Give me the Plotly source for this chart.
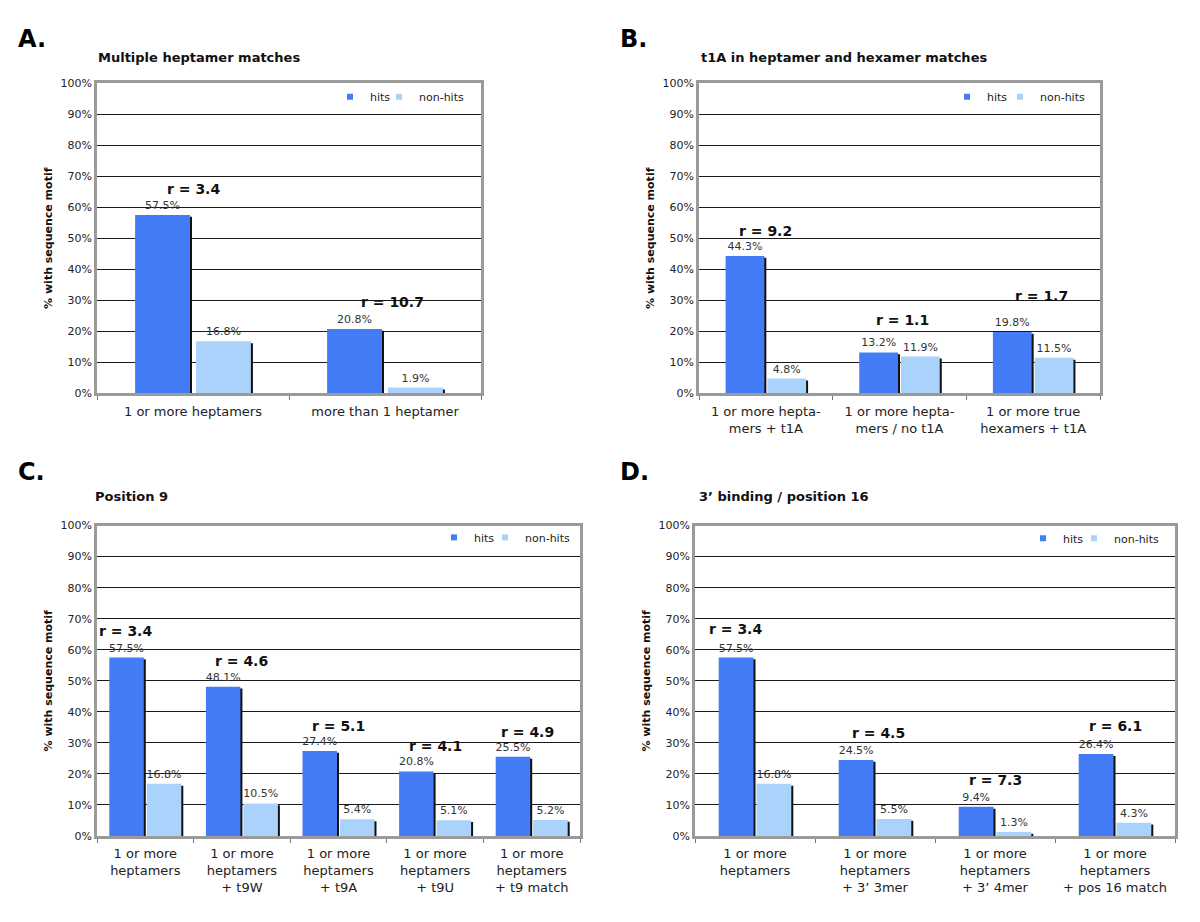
import plotly.graph_objects as go

# ---------------- data ----------------
series_names = ["hits", "non-hits"]

titles = ["Multiple heptamer matches",
          "t1A in heptamer and hexamer matches",
          "Position 9",
          "3\u2019 binding / position 16"]
letters = ["A.", "B.", "C.", "D."]

cat_A = ["1 or more heptamers", "more than 1 heptamer"]
hits_A = [57.5, 20.8]
non_A = [16.8, 1.9]
r_A = [3.4, 10.7]

cat_B = ["1 or more hepta-<br>mers + t1A", "1 or more hepta-<br>mers / no t1A",
         "1 or more true<br>hexamers + t1A"]
hits_B = [44.3, 13.2, 19.8]
non_B = [4.8, 11.9, 11.5]
r_B = [9.2, 1.1, 1.7]

cat_C = ["1 or more<br>heptamers", "1 or more<br>heptamers<br>+ t9W",
         "1 or more<br>heptamers<br>+ t9A", "1 or more<br>heptamers<br>+ t9U",
         "1 or more<br>heptamers<br>+ t9 match"]
hits_C = [57.5, 48.1, 27.4, 20.8, 25.5]
non_C = [16.8, 10.5, 5.4, 5.1, 5.2]
r_C = [3.4, 4.6, 5.1, 4.1, 4.9]

cat_D = ["1 or more<br>heptamers", "1 or more<br>heptamers<br>+ 3\u2019 3mer",
         "1 or more<br>heptamers<br>+ 3\u2019 4mer",
         "1 or more<br>heptamers<br>+ pos 16 match"]
hits_D = [57.5, 24.5, 9.4, 26.4]
non_D = [16.8, 5.5, 1.3, 4.3]
r_D = [3.4, 4.5, 7.3, 6.1]

y_ticks = list(range(0, 101, 10))
y_tick_text = [f"{v}%" for v in y_ticks]

# ---------------- style / layout ----------------
PAGE_MARGIN = 8           # browser body margin
W, H = 1200 - 2 * PAGE_MARGIN, 922 - 2 * PAGE_MARGIN
FONT = "DejaVu Sans"
C_HITS = "#437cf6"
C_NON = "#a9d3fb"
C_SHADOW = "#111111"
SERIES_COLORS = [C_HITS, C_NON]


def px_x(x):
    return (x - PAGE_MARGIN) / W


def px_y(y):
    return 1 - (y - PAGE_MARGIN) / H


panels = [
    dict(cats=cat_A, hits=hits_A, non=non_A, r=r_A, box=(97, 78, 481, 393), frac=0.286, gap=6,
         r_dx=[0, 7], r_dy=[26, 27],
         legend_sq=[(358, 94), (407, 94)], title_xy=(96, 57), letter_xy=(16, 38)),
    dict(cats=cat_B, hits=hits_B, non=non_B, r=r_B, box=(699, 78, 1100, 393), frac=0.29, gap=3,
         r_dx=[0, 3, 8], r_dy=[25, 32, 36],
         legend_sq=[(975, 94), (1028, 94)], title_xy=(699, 57), letter_xy=(618, 38)),
    dict(cats=cat_C, hits=hits_C, non=non_C, r=r_C, box=(97, 527, 580, 842), frac=0.357, gap=3,
         r_dx=[-20, 0, 0, 0, -4], r_dy=[27, 26, 25, 25, 25],
         legend_sq=[(462, 541), (513, 541)], title_xy=(93, 503), letter_xy=(16, 478)),
    dict(cats=cat_D, hits=hits_D, non=non_D, r=r_D, box=(695, 527, 1175, 842), frac=0.29, gap=3,
         r_dx=[-20, 3, 0, 0], r_dy=[29, 27, 27, 28],
         legend_sq=[(1051, 542), (1102, 542)], title_xy=(697, 503), letter_xy=(618, 478)),
]

fig = go.Figure()
annotations = []
layout = {}

for i, p in enumerate(panels):
    k = "" if i == 0 else str(i + 1)
    xa, ya = "x" + k, "y" + k
    x0, y0, x1, y1 = p["box"]
    n = len(p["cats"])
    px_per_unit = (x1 - x0) / n
    w = p["frac"]
    g = p["gap"] / px_per_unit
    sh = 2.0 / px_per_unit
    xs = list(range(n))
    off_h = -(w + g / 2)
    off_n = g / 2
    # shadows on the right edge of each bar
    for vals, off in ((p["hits"], off_h), (p["non"], off_n)):
        fig.add_trace(go.Bar(
            x=xs, y=[v - 0.6 for v in vals], width=[w] * n, offset=off + sh,
            marker=dict(color=C_SHADOW, line=dict(width=0)),
            xaxis=xa, yaxis=ya, showlegend=False, hoverinfo="skip"))
    for vals, off, col, name in ((p["hits"], off_h, C_HITS, series_names[0]),
                                 (p["non"], off_n, C_NON, series_names[1])):
        fig.add_trace(go.Bar(
            x=xs, y=vals, width=[w] * n, offset=off, name=name,
            marker=dict(color=col, line=dict(width=0)),
            text=[f"{v:.1f}%" for v in vals], textposition="outside",
            constraintext="none", cliponaxis=False,
            textfont=dict(family=FONT, size=11, color="#333333"),
            xaxis=xa, yaxis=ya, showlegend=False))
    # legend entries: one small legend per series so spacing can follow the original
    for j, (col, name) in enumerate(zip(SERIES_COLORS, series_names)):
        num = 2 * i + j + 1
        leg = "legend" if num == 1 else f"legend{num}"
        fig.add_trace(go.Scatter(
            x=[None], y=[None], mode="markers", name=name,
            marker=dict(symbol="square", size=6, color=col),
            xaxis=xa, yaxis=ya, legend=leg, showlegend=True))
        sx, sy = p["legend_sq"][j]
        layout[leg] = dict(
            x=px_x(sx - 8 - 20), y=px_y(sy - 2), xanchor="left", yanchor="middle",
            orientation="h", bgcolor="rgba(0,0,0,0)", itemwidth=30,
            borderwidth=0,
            font=dict(family=FONT, size=11, color="#222222"),
            itemclick=False, itemdoubleclick=False,
        )

    layout["xaxis" + k] = dict(
        domain=[px_x(x0), px_x(x1)], range=[-0.5, n - 0.5], anchor=ya,
        tickvals=xs, ticktext=p["cats"], ticks="", ticklabelstandoff=4,
        tickfont=dict(family=FONT, size=13, color="#222222"),
        showline=True, mirror=True, linecolor="#9a9a9a", linewidth=2.5,
        showgrid=False, zeroline=False, fixedrange=True,
        minor=dict(tick0=0.5, dtick=1, ticks="outside", ticklen=4,
                   tickcolor="#777777", showgrid=False),
    )
    layout["yaxis" + k] = dict(
        domain=[px_y(y1), px_y(y0)], range=[0, 100], anchor=xa,
        tickvals=y_ticks, ticktext=y_tick_text, ticks="",
        tickfont=dict(family=FONT, size=11, color="#222222"),
        showline=True, mirror=True, linecolor="#9a9a9a", linewidth=2.5,
        showgrid=True, gridcolor="#1a1a1a", gridwidth=1, zeroline=False,
        title=dict(text="% with sequence motif", standoff=6,
                   font=dict(family=FONT, size=11, color="#111111", weight="bold")),
    )
    # r annotations
    for j, (rv, hv) in enumerate(zip(p["r"], p["hits"])):
        annotations.append(dict(
            x=j, y=hv, xref=xa, yref=ya, text=f"r = {rv}", showarrow=False,
            xshift=p["r_dx"][j], yshift=p["r_dy"][j], xanchor="center", yanchor="middle",
            font=dict(family=FONT, size=14, color="#111111", weight="bold")))
    tx, ty = p["title_xy"]
    annotations.append(dict(
        x=px_x(tx), y=px_y(ty - 5), xref="paper", yref="paper", text=titles[i],
        showarrow=False, xanchor="left", yanchor="middle",
        font=dict(family=FONT, size=13, color="#111111", weight="bold")))
    lx2, ly2 = p["letter_xy"]
    annotations.append(dict(
        x=px_x(lx2), y=px_y(ly2 - 5), xref="paper", yref="paper", text=letters[i],
        showarrow=False, xanchor="left", yanchor="middle",
        font=dict(family=FONT, size=24, color="#000000", weight="bold")))

fig.update_layout(
    width=W, height=H, margin=dict(l=0, r=0, t=0, b=0),
    paper_bgcolor="white", plot_bgcolor="white",
    barmode="overlay", annotations=annotations, **layout,
)

fig.write_html("out.html")
